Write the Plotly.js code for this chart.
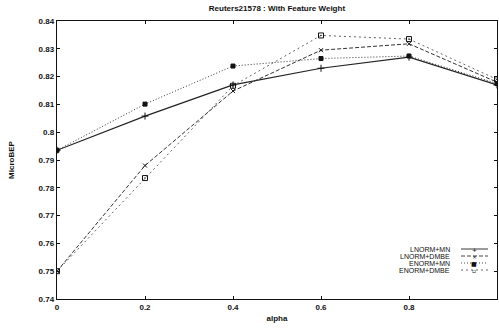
<!DOCTYPE html>
<html><head><meta charset="utf-8">
<script src="https://cdn.plot.ly/plotly-3.0.1.min.js"></script>
<style>html,body{margin:0;padding:0;background:#fff}#chart{width:499px;height:329px}</style>
</head><body><div id="chart"></div>
<script>
const alpha = [0, 0.2, 0.4, 0.6, 0.8, 1];
const lnormMN   = [0.7935, 0.8058, 0.8170, 0.8230, 0.8270, 0.8170];
const lnormDMBE = [0.7500, 0.7880, 0.8148, 0.8295, 0.8318, 0.8180];
const enormMN   = [0.7935, 0.8101, 0.8238, 0.8265, 0.8274, 0.8175];
const enormDMBE = [0.7500, 0.7835, 0.8167, 0.8348, 0.8335, 0.8190];
const seriesNames = ['LNORM+MN', 'LNORM+DMBE', 'ENORM+MN', 'ENORM+DMBE'];
const xTicks = [0, 0.2, 0.4, 0.6, 0.8, 1];
const yTicks = [0.74, 0.75, 0.76, 0.77, 0.78, 0.79, 0.8, 0.81, 0.82, 0.83, 0.84];

const styles = [
  {dash: 'solid', color: '#222', symbol: 'cross-thin-open', size: 5, lw: 1.2},
  {dash: '4px,2px', color: '#333', symbol: 'x-thin-open', size: 4, lw: 1},
  {dash: '1px,2px', color: '#333', symbol: 'square', size: 4, lw: 1},
  {dash: '2px,3px', color: '#555', symbol: 'square-open-dot', size: 5, lw: 0.9}
];
const vals = [lnormMN, lnormDMBE, enormMN, enormDMBE];
const traces = vals.map((v, i) => ({
  x: alpha, y: v, name: seriesNames[i], type: 'scatter', mode: 'lines+markers',
  line: {color: styles[i].color, width: styles[i].lw, dash: styles[i].dash},
  marker: {symbol: styles[i].symbol, size: styles[i].size, color: '#111',
           line: {color: '#111', width: 1}}
}));

const font = {family: 'Liberation Sans, Arial, sans-serif', size: 8, color: '#111', weight: 'bold'};
const legendRows = [249, 256, 263, 270];
const legendMarkChar = ['+', '×', '■', '▫'];
const shapes = [], annotations = [];
legendRows.forEach((yy, i) => {
  const yp = 1 - (yy - 21) / 278;
  annotations.push({xref: 'paper', yref: 'paper', x: (452 - 57) / 440, y: yp,
    xanchor: 'right', yanchor: 'middle', text: seriesNames[i], showarrow: false,
    font: {family: font.family, size: 7, color: '#111'}});
  shapes.push({type: 'line', xref: 'paper', yref: 'paper',
    x0: (461 - 57) / 440, x1: (488 - 57) / 440, y0: yp, y1: yp,
    line: {color: styles[i].color, width: 0.9, dash: styles[i].dash}});
  annotations.push({xref: 'paper', yref: 'paper', x: (474 - 57) / 440, y: yp,
    xanchor: 'center', yanchor: 'middle', text: legendMarkChar[i], showarrow: false,
    font: {family: 'DejaVu Sans', size: 6, color: '#111'}});
});

const axisCommon = {
  showgrid: false, zeroline: false, showline: true, mirror: 'ticks',
  linecolor: '#111', linewidth: 1.3, ticks: 'inside', ticklen: 3, tickcolor: '#111',
  tickfont: font
};
const layout = {
  width: 499, height: 329,
  margin: {l: 57, r: 2, t: 21, b: 30},
  paper_bgcolor: '#fff', plot_bgcolor: '#fff',
  showlegend: false,
  title: {text: 'Reuters21578 : With Feature Weight', font: {family: font.family, size: 8, color: '#111', weight: 'bold'},
          x: 0.555, xanchor: 'center', y: 0.975, yanchor: 'middle'},
  xaxis: Object.assign({}, axisCommon, {range: [0, 1], tickvals: xTicks,
    ticktext: xTicks.map(String),
    title: {text: 'alpha', font: font, standoff: 4}}),
  yaxis: Object.assign({}, axisCommon, {range: [0.74, 0.84], tickvals: yTicks,
    ticktext: yTicks.map(v => String(v)),
    title: {text: 'MicroBEP', font: font, standoff: 22}}),
  shapes: shapes, annotations: annotations
};
Plotly.newPlot('chart', traces, layout, {staticPlot: true, displayModeBar: false});
</script></body></html>
